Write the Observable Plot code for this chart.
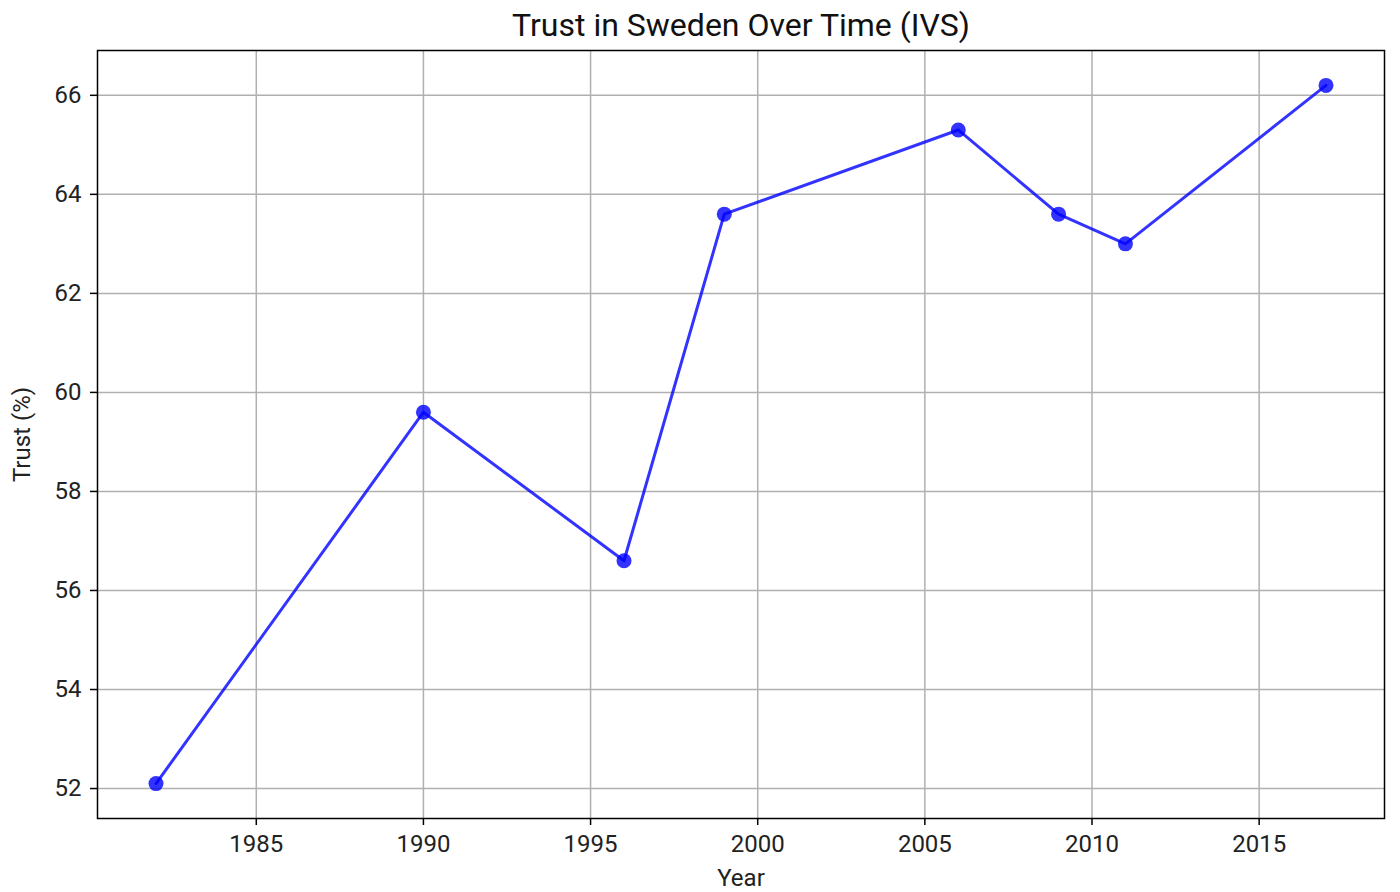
<!DOCTYPE html>
<html>
<head>
<meta charset="utf-8">
<script src="https://cdn.jsdelivr.net/npm/d3@7"></script>
<script src="https://cdn.jsdelivr.net/npm/@observablehq/plot@0.6"></script>
<style>
  html, body { margin: 0; padding: 0; background: #fff; }
  #chart svg { display: block; }
</style>
</head>
<body>
<div id="chart"></div>
<script>
const titleText = "Trust in Sweden Over Time (IVS)";
const xLabel = "Year";
const yLabel = "Trust (%)";
const years = [1982, 1990, 1996, 1999, 2006, 2009, 2011, 2017];
const trust = [52.1, 59.6, 56.6, 63.6, 65.3, 63.6, 63.0, 66.2];
const xTicks = [1985, 1990, 1995, 2000, 2005, 2010, 2015];
const yTicks = [52, 54, 56, 58, 60, 62, 64, 66];

const data = years.map((year, i) => ({year, trust: trust[i]}));

const lineColor = "rgba(0,0,255,0.8)";

const chart = Plot.plot({
  width: 1400,
  height: 892,
  marginLeft: 97,
  marginRight: 16,
  marginTop: 50,
  marginBottom: 74,
  style: {fontFamily: "Roboto, sans-serif", fontSize: "24px", color: "#222", background: "#fff"},
  x: {domain: [1980.25, 2018.75], label: null},
  y: {domain: [51.395, 66.905], label: null},
  marks: [
    Plot.gridX(xTicks, {stroke: "#b0b0b0", strokeOpacity: 1, strokeWidth: 1.5}),
    Plot.gridY(yTicks, {stroke: "#b0b0b0", strokeOpacity: 1, strokeWidth: 1.5}),
    Plot.axisX(xTicks, {tickSize: 7, tickPadding: 9, tickFormat: d => String(d), fontSize: 24, stroke: "#000", strokeWidth: 1.5, fill: "#222"}),
    Plot.axisY(yTicks, {tickSize: 7, tickPadding: 9, tickFormat: d => String(d), fontSize: 24, stroke: "#000", strokeWidth: 1.5, fill: "#222"}),
    Plot.line(data, {x: "year", y: "trust", stroke: lineColor, strokeWidth: 3}),
    Plot.dot(data, {x: "year", y: "trust", r: 7.5, fill: lineColor, stroke: "none"}),
    Plot.frame({stroke: "#000", strokeWidth: 1.5}),
    Plot.text([titleText], {text: d => d, frameAnchor: "top", dy: -25, lineAnchor: "middle", fontSize: 32, fill: "#111"}),
    Plot.text([xLabel], {text: d => d, frameAnchor: "bottom", dy: 60, lineAnchor: "middle", fontSize: 24, fill: "#222"}),
    Plot.text([yLabel], {text: d => d, frameAnchor: "left", dx: -75, rotate: -90, textAnchor: "middle", lineAnchor: "middle", fontSize: 24, fill: "#222"})
  ]
});
document.getElementById("chart").appendChild(chart);
</script>
</body>
</html>
